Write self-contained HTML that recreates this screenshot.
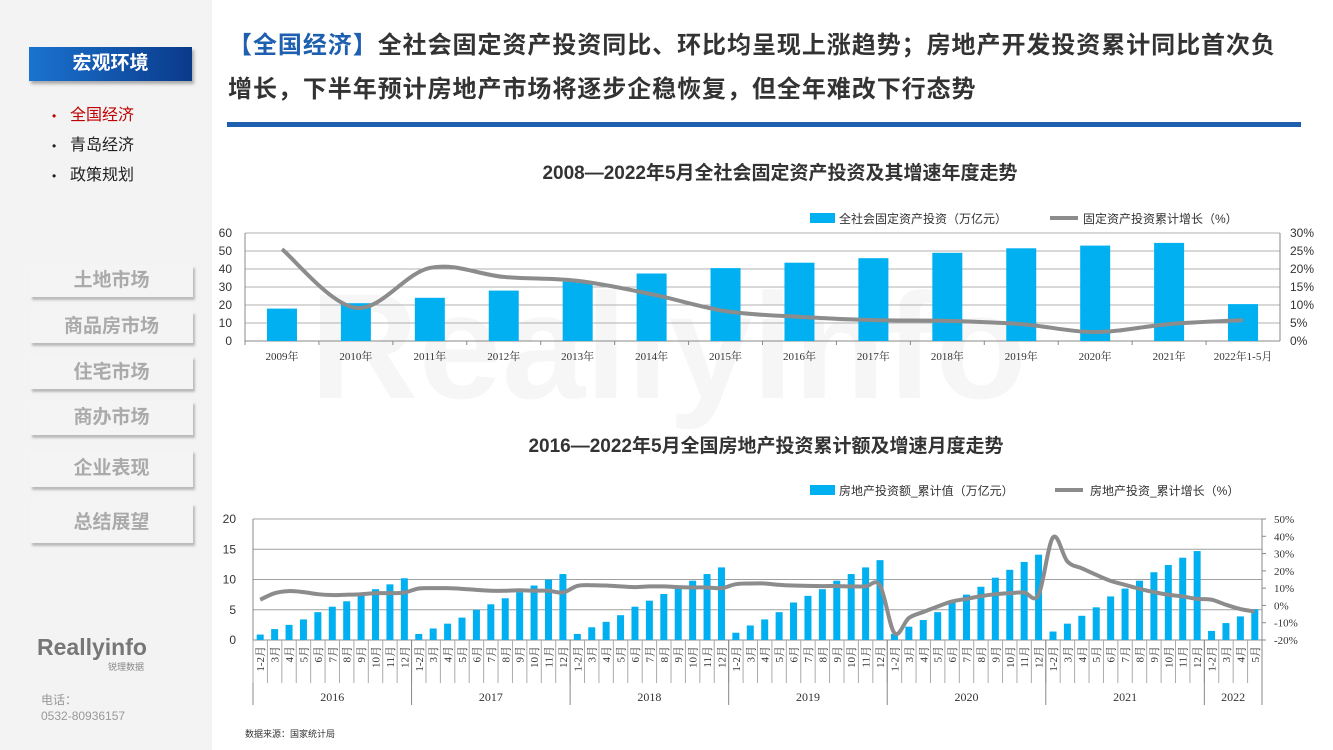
<!DOCTYPE html>
<html><head><meta charset="utf-8"><style>
body{margin:0;width:1333px;height:750px;overflow:hidden;background:#fff;font-family:"Liberation Sans","Noto Sans CJK SC",sans-serif;position:relative}
.side{position:absolute;left:0;top:0;width:212px;height:750px;background:#f3f3f3}
.hdr{position:absolute;left:29px;top:47px;width:163px;height:34px;background:linear-gradient(90deg,#1a73d0,#0a3a8a);color:#fff;font-weight:bold;font-size:19px;text-align:center;line-height:34px;box-shadow:2px 3px 3px #aaa}
.nav{position:absolute;left:52px;font-size:16px;color:#222}
.nav b{font-weight:normal;display:inline-block;width:18px;font-size:12px}
.btn{position:absolute;left:30px;width:163px;background:#f4f4f4;color:#aaa;font-weight:bold;font-size:19px;text-align:center;box-shadow:2px 3px 2px #bbb}
.title{position:absolute;left:228px;top:24px;font-size:24px;letter-spacing:0.95px;font-weight:bold;color:#333;line-height:44px;width:1100px;white-space:nowrap}
</style></head><body>
<div class="side">
<div class="hdr">宏观环境</div>
<div class="nav" style="top:101px;color:#c00000"><b>•</b>全国经济</div>
<div class="nav" style="top:131px"><b>•</b>青岛经济</div>
<div class="nav" style="top:161px"><b>•</b>政策规划</div>
<div class="btn" style="top:265px;height:32px;line-height:32px">土地市场</div>
<div class="btn" style="top:311px;height:32px;line-height:32px">商品房市场</div>
<div class="btn" style="top:356px;height:33px;line-height:33px">住宅市场</div>
<div class="btn" style="top:401px;height:34px;line-height:34px">商办市场</div>
<div class="btn" style="top:450px;height:37px;line-height:37px">企业表现</div>
<div class="btn" style="top:503px;height:40px;line-height:40px">总结展望</div>
<div style="position:absolute;left:37px;top:634px;font-size:23px;font-weight:bold;color:#777">Reallyinfo</div>
<div style="position:absolute;left:108px;top:660px;font-size:9px;color:#888">锐理数据</div>
<div style="position:absolute;left:41px;top:692px;font-size:12px;color:#999;line-height:16px">电话：<br>0532-80936157</div>
</div>
<div class="title"><span style="color:#1f5fb0">【全国经济】</span>全社会固定资产投资同比、环比均呈现上涨趋势；房地产开发投资累计同比首次负<br>增长，下半年预计房地产市场将逐步企稳恢复，但全年难改下行态势</div>
<div style="position:absolute;left:227px;top:122px;width:1074px;height:5px;background:#1f5fb0"></div>
<div style="position:absolute;left:310px;top:260px;font-size:150px;font-weight:bold;color:#000;opacity:0.03">Reallyinfo</div>
<svg id="c" width="1333" height="750" style="position:absolute;left:0;top:0" font-family="Liberation Serif,Noto Serif CJK SC,serif">
<text x="780" y="179" text-anchor="middle" font-size="19" font-weight="bold" fill="#333" font-family="Liberation Sans,Noto Sans CJK SC,sans-serif">2008—2022年5月全社会固定资产投资及其增速年度走势</text>
<text x="766" y="452" text-anchor="middle" font-size="19" font-weight="bold" fill="#333" font-family="Liberation Sans,Noto Sans CJK SC,sans-serif">2016—2022年5月全国房地产投资累计额及增速月度走势</text>
<g font-family="Liberation Sans,Noto Sans CJK SC,sans-serif" font-size="12" fill="#333">
<rect x="810" y="213" width="25" height="10" fill="#00b0f0"/>
<text x="839" y="223">全社会固定资产投资（万亿元）</text>
<line x1="1050" y1="218" x2="1078" y2="218" stroke="#8c8c8c" stroke-width="4"/>
<text x="1083" y="223">固定资产投资累计增长（%）</text>
<rect x="810" y="485" width="25" height="10" fill="#00b0f0"/>
<text x="839" y="495">房地产投资额_累计值（万亿元）</text>
<line x1="1055" y1="490" x2="1083" y2="490" stroke="#8c8c8c" stroke-width="4"/>
<text x="1090" y="495">房地产投资_累计增长（%）</text>
<text x="245" y="737" font-size="9">数据来源：国家统计局</text>
</g>
</svg>
<script>
const cats1=['2009年','2010年','2011年','2012年','2013年','2014年','2015年','2016年','2017年','2018年','2019年','2020年','2021年','2022年1-5月'];
const inv1=[18,21,24,28,33,37.5,40.5,43.5,46,49,51.5,53,54.5,20.5];
const gr1=[25.5,9.2,20.3,17.8,16.7,13,8.3,6.7,5.8,5.6,4.7,2.5,4.7,5.8];
const ticksL1=[0,10,20,30,40,50,60];
const ticksR1=[0,5,10,15,20,25,30];
const years2=['2016','2017','2018','2019','2020','2021','2022'];
const months2=['1-2月','3月','4月','5月','6月','7月','8月','9月','10月','11月','12月'];
const re2=[0.9,1.8,2.5,3.4,4.6,5.5,6.4,7.3,8.4,9.2,10.2, 1.0,1.9,2.7,3.7,5.0,5.9,6.9,7.9,9.0,10.0,10.9, 1.0,2.1,3.0,4.1,5.5,6.5,7.6,8.5,9.8,10.9,12.0, 1.2,2.4,3.4,4.6,6.2,7.3,8.4,9.8,10.9,12.0,13.2, 1.0,2.2,3.3,4.6,6.2,7.5,8.8,10.3,11.6,12.9,14.1, 1.4,2.7,4.0,5.4,7.2,8.5,9.8,11.2,12.4,13.6,14.7, 1.5,2.8,3.9,5.1];
const reg2=[3.3,7.1,8.3,7.7,6.5,6.0,6.2,6.5,7.1,7.1,7.5, 9.8,10,10,9.6,9.0,8.5,8.5,8.8,8.5,8.5,7.5, 11.3,11.7,11.5,11,10.6,11,11,10.6,10.4,10.4,10.0, 12.3,12.7,12.7,11.9,11.5,11.3,11.2,11.2,11,11,11.5, -16,-7.3,-3.8,-0.6,2.3,3.8,5.4,6.5,7.1,7.5,6.2, 39.4,25.4,21.5,17.7,14.2,11.9,9.6,7.7,6.2,5.2,3.8, 3.3,0.4,-2.1,-3.5];
const ticksL2=[0,5,10,15,20];
const ticksR2=[-20,-10,0,10,20,30,40,50];
const svg=document.getElementById('c');const NS='http://www.w3.org/2000/svg';
function mk(t,a,txt){const e=document.createElementNS(NS,t);for(const k in a)e.setAttribute(k,a[k]);if(txt!=null)e.textContent=txt;svg.appendChild(e);return e;}
function smooth(pts){let d='M'+pts[0][0]+','+pts[0][1];for(let i=0;i<pts.length-1;i++){const p0=pts[i-1]||pts[i],p1=pts[i],p2=pts[i+1],p3=pts[i+2]||p2;const t=0.17;d+=` C${p1[0]+(p2[0]-p0[0])*t},${p1[1]+(p2[1]-p0[1])*t} ${p2[0]-(p3[0]-p1[0])*t},${p2[1]-(p3[1]-p1[1])*t} ${p2[0]},${p2[1]}`;}return d;}
// chart 1
const X0=245,X1=1280,Y0=341,Y1=233;const cw=(X1-X0)/cats1.length;
const yL1=v=>Y0-(v/60)*(Y0-Y1), yR1=v=>Y0-(v/30)*(Y0-Y1), xc1=i=>X0+cw*(i+0.5);
ticksL1.forEach(v=>{const g=mk('line',{x1:X0,x2:X1,y1:yL1(v),y2:yL1(v),stroke:v?'#b0b0b0':'#888'});
const t=mk('text',{x:232,y:yL1(v)+4,'text-anchor':'end','font-size':12,fill:'#333','font-family':'Liberation Sans,sans-serif'},v);});
ticksR1.forEach(v=>{const t=mk('text',{x:1290,y:yR1(v)+4,'font-size':12,fill:'#333','font-family':'Liberation Sans,sans-serif'},v+'%');});
mk('line',{x1:X0,x2:X0,y1:Y1,y2:Y0,stroke:'#888'});mk('line',{x1:X1,x2:X1,y1:Y1,y2:Y0,stroke:'#888'});
cats1.forEach((c,i)=>{const b=mk('rect',{x:xc1(i)-15,y:yL1(inv1[i]),width:30,height:Y0-yL1(inv1[i]),fill:'#00b0f0'});
mk('line',{x1:X0+cw*i,x2:X0+cw*i,y1:Y0,y2:Y0+4,stroke:'#888'});
const t=mk('text',{x:xc1(i),y:360,'text-anchor':'middle','font-size':11,fill:'#333'},c);});
const l1=mk('path',{d:smooth(gr1.map((v,i)=>[xc1(i),yR1(v)])),fill:'none',stroke:'#8c8c8c','stroke-width':4});

// chart 2
const A0=253,A1=1262,B0=640,B1=519;const n2=re2.length;const mw=(A1-A0)/n2;
const yL2=v=>B0-(v/20)*(B0-B1), yR2=v=>B0-((v+20)/70)*(B0-B1), xc2=i=>A0+mw*(i+0.5);
ticksL2.forEach(v=>{const g=mk('line',{x1:A0,x2:A1,y1:yL2(v),y2:yL2(v),stroke:v?'#a0a0a0':'#888'});
const t=mk('text',{x:236,y:yL2(v)+4,'text-anchor':'end','font-size':12,fill:'#333','font-family':'Liberation Sans,sans-serif'},v);});
ticksR2.forEach(v=>{const t=mk('text',{x:1274,y:yR2(v)+4,'font-size':11,fill:'#333'},v+'%');
mk('line',{x1:A1,x2:A1+4,y1:yR2(v),y2:yR2(v),stroke:'#888'});});
mk('line',{x1:A0,x2:A0,y1:B1,y2:705,stroke:'#888'});mk('line',{x1:A1,x2:A1,y1:B1,y2:705,stroke:'#888'});
let idx=0;years2.forEach((y,yi)=>{const cnt=yi<6?11:4;const start=idx;
for(let m=0;m<cnt;m++){const i=idx;const lab=months2[m];const b=mk('rect',{x:xc2(i)-3.5,y:yL2(re2[i]),width:7,height:B0-yL2(re2[i]),fill:'#00b0f0'});
mk('line',{x1:A0+mw*i,x2:A0+mw*i,y1:B0,y2:683,stroke:'#aaa'});
const t=mk('text',{x:0,y:0,'font-size':11,fill:'#333',transform:`translate(${xc2(i)+4},${646}) rotate(-90)`,'text-anchor':'end'},lab);idx++;}
if(yi>0)mk('line',{x1:A0+mw*start,x2:A0+mw*start,y1:B0,y2:705,stroke:'#888'});
const t=mk('text',{x:A0+mw*(start+cnt/2),y:701,'text-anchor':'middle','font-size':12,fill:'#333'},y);});
const l2=mk('path',{d:smooth(reg2.map((v,i)=>[xc2(i),yR2(v)])),fill:'none',stroke:'#8c8c8c','stroke-width':4});

</script>
</body></html>
